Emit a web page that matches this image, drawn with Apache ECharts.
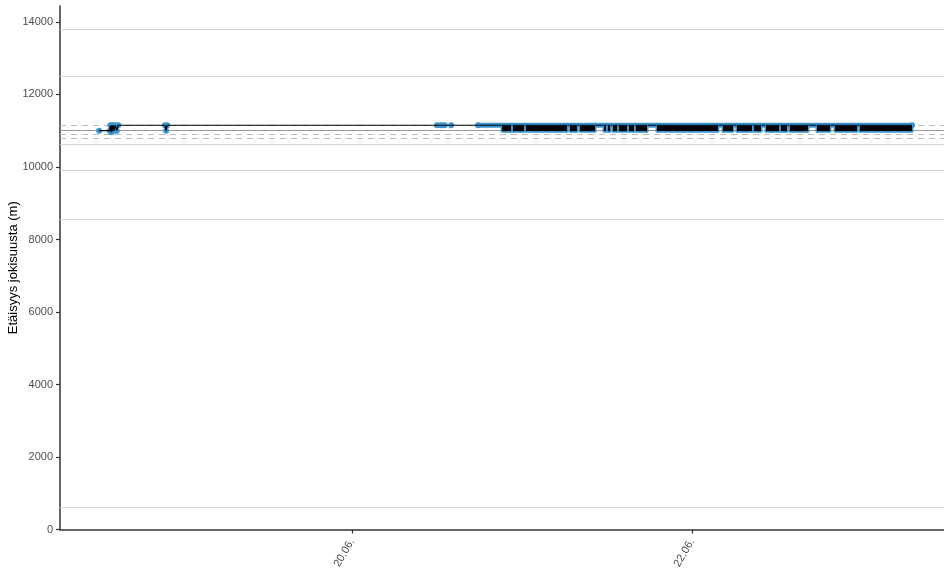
<!DOCTYPE html>
<html>
<head>
<meta charset="utf-8">
<script src="https://cdn.jsdelivr.net/npm/echarts@6/dist/echarts.min.js"></script>
<style>html,body{margin:0;padding:0;background:#fff}#c{width:944px;height:570px}</style>
</head>
<body>
<div id="c"></div>
<script>
// ---- data (hours since 18.06. 00:00) ----
const upperLevel = 11150;
const lowerLevel = 11000;
const trackHours  = [12.3, 13.8, 13.9, 14.0, 14.1, 14.2, 14.3, 14.4, 14.6, 14.8, 15.0, 21.6, 21.75, 21.9, 60.0, 60.6, 61.1, 62.0, 65.8, 127.06];
const trackValues = [11000, 11000, 11150, 10960, 11150, 10980, 11150, 11000, 11150, 11000, 11150, 11150, 11000, 11150, 11150, 11150, 11150, 11150, 11150, 11150];
const upperRunStart = [60.0, 65.8];
const upperRunEnd   = [61.1, 127.06];
const alternationStart = [69.18, 70.73, 72.56, 78.78, 80.19, 83.58, 84.14, 84.85, 85.69, 87.11, 88.09, 91.06, 100.38, 102.35, 104.75, 106.45, 108.56, 109.84, 113.65, 116.19, 119.72];
const alternationEnd   = [70.45, 72.28, 78.35, 79.76, 82.31, 83.86, 84.42, 85.41, 86.82, 87.81, 89.65, 99.67, 101.79, 104.47, 105.74, 108.28, 109.41, 112.38, 115.48, 119.29, 127.06];
const refSolidLight = [13807, 12510, 10634, 9905, 8566, 612];
const refSolidDark = [11020];
const refDashed = [11158, 10910, 10800];
const xTickHours = [48, 96];
const xTickLabels = ['20.06.', '22.06.'];
const yTicks = [0, 2000, 4000, 6000, 8000, 10000, 12000, 14000];

const blue = '#3a95d0';
const chart = echarts.init(document.getElementById('c'));

const refLines = []
  .concat(refSolidLight.map(v => ({yAxis: v, lineStyle: {color: '#d3d3d3', type: 'solid', width: 1.2}})))
  .concat(refSolidDark.map(v => ({yAxis: v, lineStyle: {color: '#9a9a9a', type: 'solid', width: 1.2}})))
  .concat(refDashed.map(v => ({yAxis: v, lineStyle: {color: '#bdbdbd', type: [6, 5], width: 1.2}})));

const trackData = trackHours.map((h, i) => [h, trackValues[i]]);

const option = {
  animation: false,
  grid: {left: 60, right: 0, top: 6, bottom: 40.5, containLabel: false, outerBoundsMode: 'none'},
  xAxis: {
    type: 'value', min: 6.78, max: 131.58,
    axisLine: {lineStyle: {color: '#333', width: 1.5}},
    axisTick: {customValues: xTickHours, length: 4, lineStyle: {color: '#333', width: 1.2}},
    axisLabel: {
      customValues: xTickHours, rotate: 60, margin: 10,
      color: '#4d4d4d', fontSize: 11, fontFamily: 'Liberation Sans',
      formatter: v => { const i = xTickHours.findIndex(t => Math.abs(t - v) < 1e-6); return i >= 0 ? xTickLabels[i] : ''; }
    },
    splitLine: {show: false}
  },
  yAxis: {
    type: 'value', min: 0, max: 14440,
    name: 'Etäisyys jokisuusta (m)', nameLocation: 'middle', nameGap: 40, nameMoveOverlap: false,
    nameTextStyle: {color: '#000', fontSize: 13, fontFamily: 'Liberation Sans'},
    axisLine: {show: true, lineStyle: {color: '#333', width: 1.5}},
    axisTick: {show: true, customValues: yTicks, length: 4, lineStyle: {color: '#333', width: 1.2}},
    axisLabel: {customValues: yTicks, margin: 7, color: '#4d4d4d', fontSize: 11, fontFamily: 'Liberation Sans',
      formatter: v => String(Math.round(v))},
    splitLine: {show: false}
  },
  series: [
    {
      type: 'line', data: [], silent: true, z: 1,
      markLine: {silent: true, z: 1, symbol: ['none', 'none'], label: {show: false}, data: refLines, animation: false}
    },
    {
      type: 'custom', z: 2, clip: false, silent: true,
      data: upperRunStart.map((s, i) => [s, upperRunEnd[i]]),
      renderItem: (params, api) => {
        const a = api.coord([api.value(0), upperLevel]);
        const b = api.coord([api.value(1), upperLevel]);
        return {type: 'rect', shape: {x: a[0] - 2.5, y: a[1] - 2.6, width: b[0] - a[0] + 5, height: 5.2, r: 2.5}, style: {fill: blue}};
      }
    },
    {
      type: 'scatter', z: 2, data: trackData, symbolSize: 6, itemStyle: {color: blue, opacity: 1}, silent: true
    },
    {
      type: 'line', z: 3, data: trackData, showSymbol: false, silent: true,
      lineStyle: {color: '#000', width: 1.2}
    },
    {
      type: 'custom', z: 4, clip: false, silent: true,
      data: alternationStart.map((s, i) => [s, alternationEnd[i]]),
      renderItem: (params, api) => {
        const a = api.coord([api.value(0), upperLevel]);
        const b = api.coord([api.value(1), lowerLevel]);
        return {type: 'group', children: [
          {type: 'rect', shape: {x: a[0] - 1.5, y: a[1], width: b[0] - a[0] + 3, height: b[1] - a[1] + 2, r: 1.5}, style: {fill: blue}},
          {type: 'rect', shape: {x: a[0], y: a[1], width: b[0] - a[0], height: b[1] - a[1] + 0.4}, style: {fill: '#000'}}
        ]};
      }
    }
  ]
};
chart.setOption(option);
</script>
</body>
</html>
